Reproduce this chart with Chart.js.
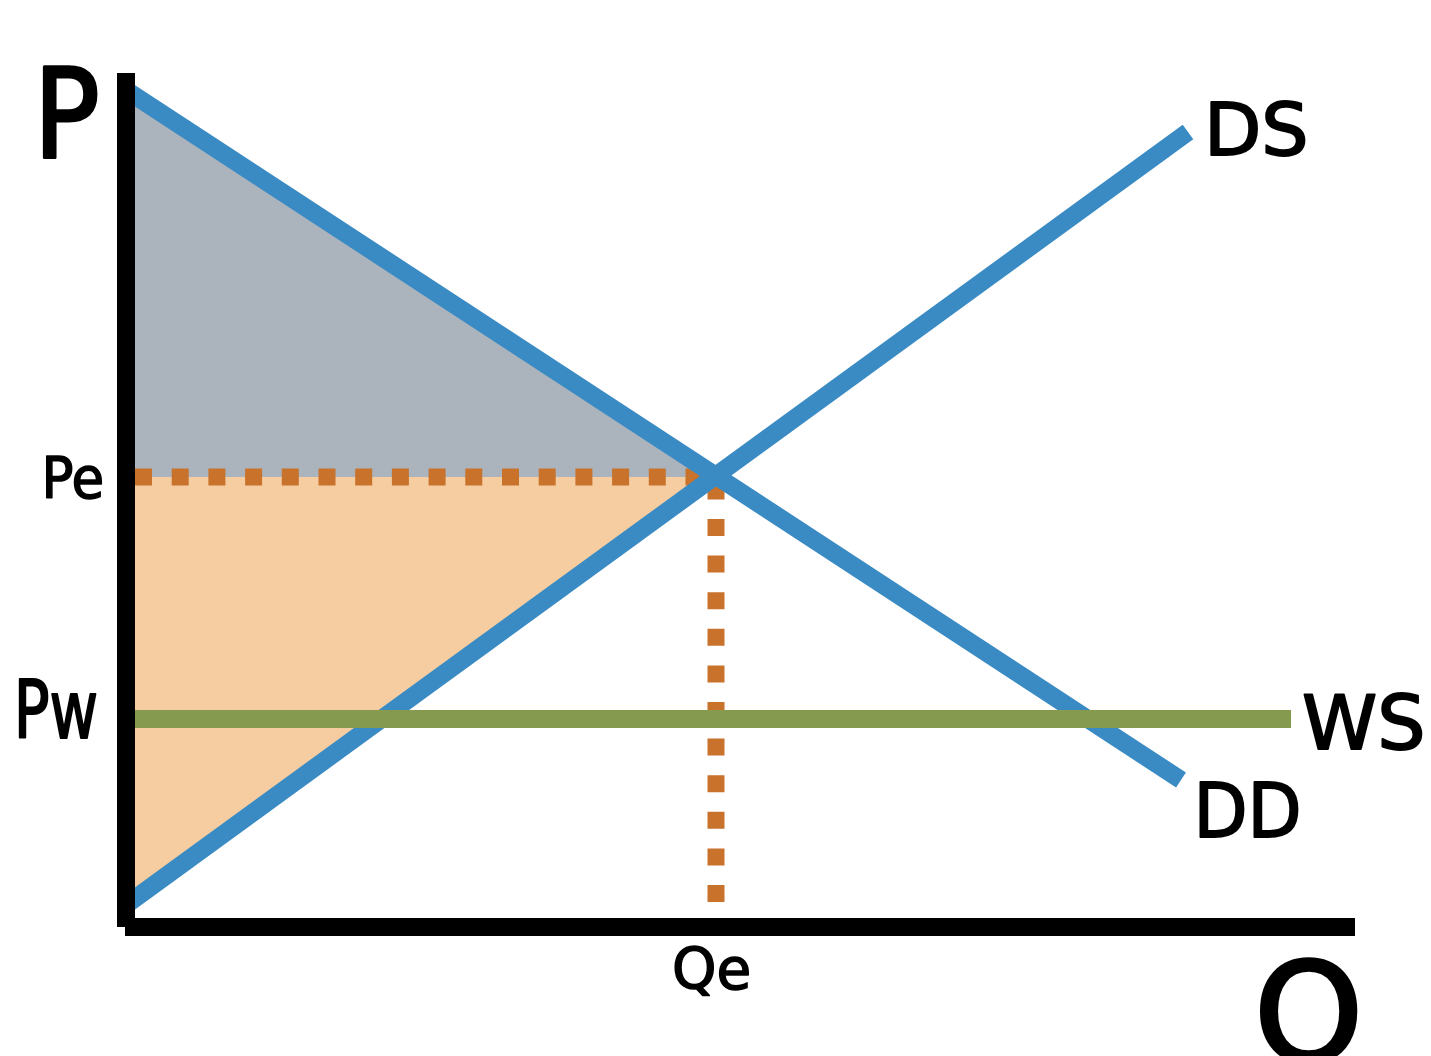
<!DOCTYPE html>
<html>
<head>
<meta charset="utf-8">
<script src="https://cdn.jsdelivr.net/npm/chart.js@4"></script>
<style>
  html, body { margin: 0; padding: 0; background: #ffffff; }
  canvas { display: block; }
</style>
</head>
<body>
<canvas id="c" width="1431" height="1056"></canvas>
<script>
// ---- data (Q = quantity, P = price) ----
const demandQ = [0, 10.55];
const demandP = [8.37, 1.47];
const supplyQ = [0, 10.62];
const supplyP = [0.22, 7.95];
const worldQ = [0, 11.65];
const worldP = 2.08;
const eqQ = 5.9;
const eqP = 4.5;
const peDotQ = [0.09, eqQ];
const qeDotP = [0.25, eqP];
const axisQ = [0, 12.29];
const axisP = [0, 8.54];
const tickLabels = { pe: 'Pe', pw: 'Pw', qe: 'Qe' };
const curveLabels = { demand: 'DD', supply: 'DS', world: 'WS' };
const axisTitles = { p: 'P', q: 'Q' };

const pts = (xs, ys) => xs.map((x, i) => ({ x, y: Array.isArray(ys) ? ys[i] : ys }));

const BLUE = '#3a8bc3', GREEN = '#869a4f', DOT = '#c9722c',
      GRAY = '#abb4bd', ORANGE = '#f5cda1';
const FONT = "'DejaVu Sans'";

function fitText(ctx, text, left, top, w, h) {
  ctx.font = '100px ' + FONT;
  const m = ctx.measureText(text);
  const size = 100 * h / m.actualBoundingBoxAscent;
  ctx.font = size + 'px ' + FONT;
  const m2 = ctx.measureText(text);
  const inkW = m2.actualBoundingBoxLeft + m2.actualBoundingBoxRight;
  const sx = w / inkW;
  const sw = Math.max(1.5, h * 0.035);
  ctx.save();
  ctx.translate(left, top);
  ctx.scale(sx, 1);
  ctx.textBaseline = 'alphabetic';
  ctx.textAlign = 'left';
  ctx.fillStyle = '#000';
  ctx.strokeStyle = '#000';
  ctx.lineJoin = 'round';
  ctx.lineWidth = sw;
  ctx.fillText(text, m2.actualBoundingBoxLeft, m2.actualBoundingBoxAscent);
  ctx.strokeText(text, m2.actualBoundingBoxLeft, m2.actualBoundingBoxAscent);
  ctx.restore();
}

const labelPlugin = {
  id: 'labels',
  afterDraw(chart) {
    const ctx = chart.ctx, xs = chart.scales.x, ys = chart.scales.y;
    const X = v => xs.getPixelForValue(v), Y = v => ys.getPixelForValue(v);
    // axis titles
    fitText(ctx, axisTitles.p, X(0) - 82, Y(axisP[1]) - 7, 52, 91);
    fitText(ctx, axisTitles.q, X(axisQ[1]) - 94, Y(0) + 32, 95, 103);
    // tick labels
    fitText(ctx, tickLabels.pe, X(0) - 24 - 56, Y(eqP) - 21, 56, 42);
    fitText(ctx, tickLabels.pw, X(0) - 30 - 77, Y(worldP) - 40, 77, 58);
    fitText(ctx, tickLabels.qe, X(eqQ) - 4 - 37, Y(0) + 19, 74, 43);
    // curve labels
    fitText(ctx, curveLabels.supply, X(supplyQ[1]) + 23, Y(supplyP[1]) - 31, 94, 55);
    fitText(ctx, curveLabels.demand, X(demandQ[1]) + 19, Y(demandP[1]) + 2, 98, 55);
    fitText(ctx, curveLabels.world, X(worldQ[1]) + 13, Y(worldP) - 26, 118, 56);
  }
};

const base = { pointRadius: 0, pointHoverRadius: 0, tension: 0, borderCapStyle: 'butt', clip: false };

new Chart(document.getElementById('c'), {
  type: 'line',
  data: {
    datasets: [
      // axes (top)
      Object.assign({}, base, { data: pts([0, 0], axisP), borderColor: '#000', borderWidth: 18, order: 0, fill: false }),
      Object.assign({}, base, { data: pts([-0.01, axisQ[1]], 0), borderColor: '#000', borderWidth: 18, order: 0, fill: false }),
      // world supply
      Object.assign({}, base, { data: pts(worldQ, worldP), borderColor: GREEN, borderWidth: 18, order: 1, fill: false }),
      // demand & supply
      Object.assign({}, base, { data: pts(demandQ, demandP), borderColor: BLUE, borderWidth: 18, order: 2, fill: false }),
      Object.assign({}, base, { data: pts(supplyQ, supplyP), borderColor: BLUE, borderWidth: 18, order: 2, fill: false }),
      // dotted guides
      Object.assign({}, base, { data: pts(peDotQ, eqP), borderColor: DOT, borderWidth: 17, borderDash: [17, 19.7], order: 3, fill: false }),
      Object.assign({}, base, { data: pts([eqQ, eqQ], qeDotP), borderColor: DOT, borderWidth: 17, borderDash: [17, 19.6], order: 3, fill: false }),
      // consumer surplus (gray) and producer surplus (orange)
      Object.assign({}, base, { data: pts([0, eqQ], [demandP[0], eqP]), borderWidth: 0, borderColor: 'rgba(0,0,0,0)', backgroundColor: GRAY, fill: { value: eqP }, order: 4 }),
      Object.assign({}, base, { data: pts([0, eqQ], [supplyP[0], eqP]), borderWidth: 0, borderColor: 'rgba(0,0,0,0)', backgroundColor: ORANGE, fill: { value: eqP }, order: 4 })
    ]
  },
  options: {
    responsive: false,
    animation: false,
    devicePixelRatio: 1,
    layout: { padding: 0 },
    plugins: { legend: { display: false }, tooltip: { enabled: false } },
    events: [],
    scales: {
      x: { type: 'linear', min: -1.26, max: 13.05, display: false },
      y: { type: 'linear', min: -1.29, max: 9.27, display: false }
    }
  },
  plugins: [labelPlugin]
});
</script>
</body>
</html>
